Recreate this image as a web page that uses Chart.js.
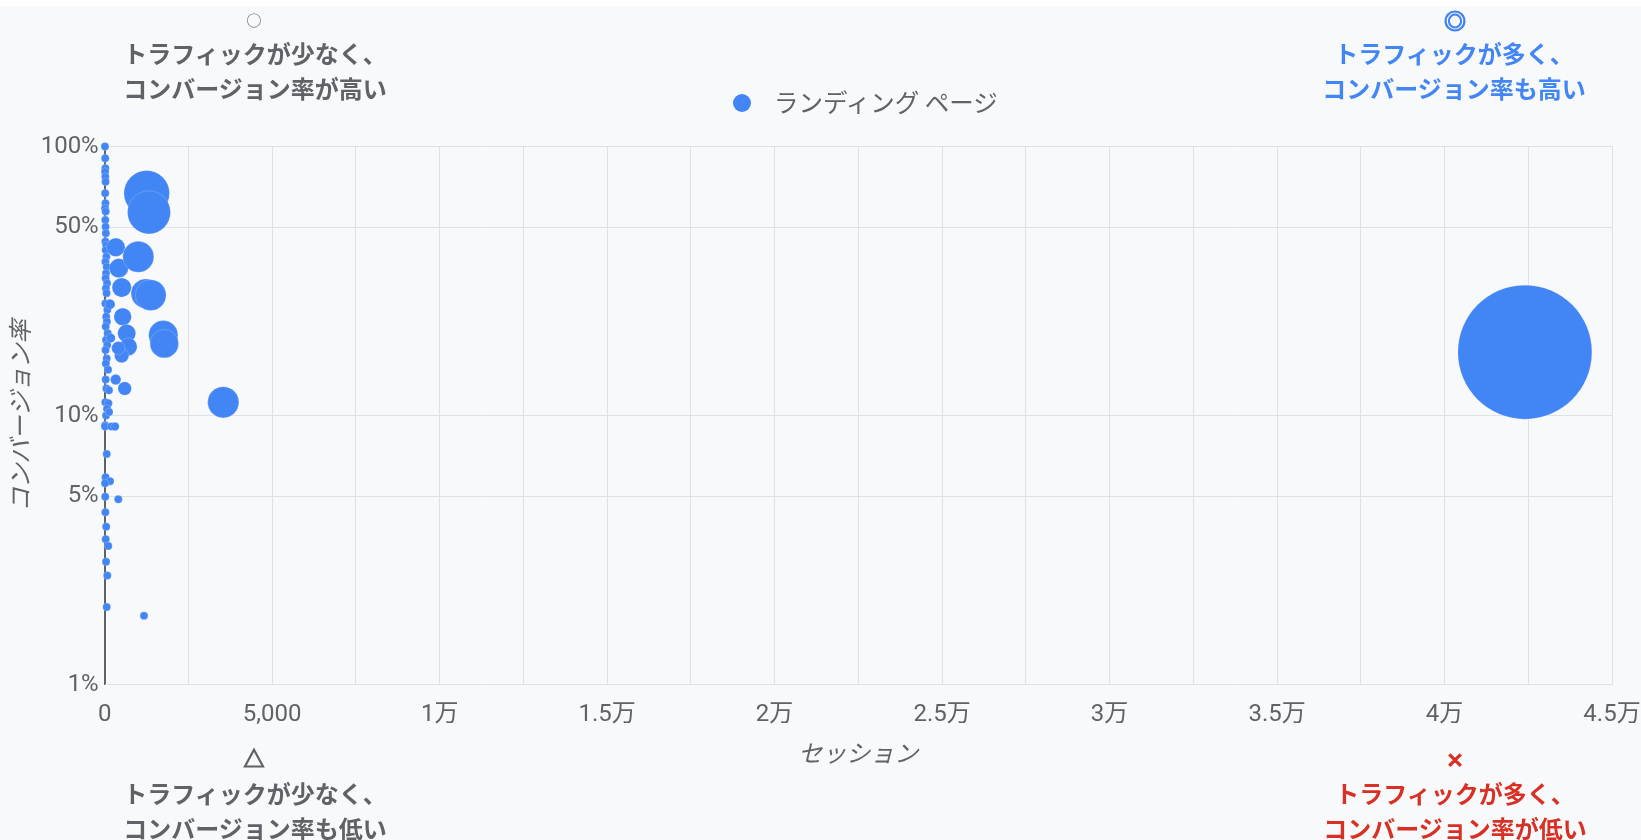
<!DOCTYPE html>
<html lang="ja">
<head>
<meta charset="utf-8">
<script src="https://cdn.jsdelivr.net/npm/chart.js@4.4.1/dist/chart.umd.min.js"></script>
<style>
  html, body { margin: 0; padding: 0; background: #ffffff; }
  body { width: 1641px; height: 840px; position: relative; overflow: hidden; font-family: Roboto, "Noto Sans CJK JP", sans-serif; }
  #panel { position: absolute; left: 0; top: 6px; width: 1641px; height: 834px; background: #f8f9fa; }
  #chartBox { position: absolute; left: 0; top: 0; width: 1641px; height: 834px; }
  .note { position: absolute; width: 400px; text-align: center; font-family: "Noto Sans CJK JP", sans-serif; font-weight: 700; font-size: 24px; line-height: 35px; white-space: nowrap; }
  .mark { position: absolute; width: 40px; height: 30px; line-height: 30px; text-align: center; font-family: "Noto Sans CJK JP", sans-serif; }
  .gray { color: #5f6368; }
  .blue { color: #4285f4; }
  .red { color: #d93025; }
  #legend { position: absolute; left: 733px; top: 84px; height: 35px; line-height: 35px; font-size: 24.5px; color: #5f6368; font-family: "Noto Sans CJK JP", sans-serif; white-space: nowrap; }
  #legend .dot { display: inline-block; width: 18px; height: 18px; border-radius: 50%; background: #4285f4; vertical-align: middle; margin-right: 23px; position: relative; top: -2px; }
</style>
</head>
<body>
<div id="panel">
  <div id="chartBox"><canvas id="bubbleChart"></canvas></div>
</div>

<div class="mark gray" style="left:234px; top:5px; font-size:15px;">○</div>
<div class="note gray" style="left:55px; top:35px;">トラフィックが少なく、<br>コンバージョン率が高い</div>

<div class="mark blue" style="left:1435px; top:4px; font-size:22px; font-weight:700; -webkit-text-stroke:1.2px #4285f4;">◎</div>
<div class="note blue" style="left:1254px; top:35px;">トラフィックが多く、<br>コンバージョン率も高い</div>

<div class="mark gray" style="left:234px; top:742px; font-size:21px; font-weight:700; -webkit-text-stroke:1.2px #5f6368;">△</div>
<div class="note gray" style="left:55px; top:775px;">トラフィックが少なく、<br>コンバージョン率も低い</div>

<div class="mark red" style="left:1435px; top:744px; font-size:18px; font-weight:700; -webkit-text-stroke:1.4px #d93025;">×</div>
<div class="note red" style="left:1255px; top:775px;">トラフィックが多く、<br>コンバージョン率が低い</div>

<div id="legend"><span class="dot"></span><span id="legendText"></span></div>

<script>
// ランディングページごとのセッション数とコンバージョン率(%)
const sessions = [
    8, 15, 20, 12, 18, 25, 15, 22, 10, 30,
    18, 25, 35, 20, 45, 30, 50, 22, 60, 40,
    28, 70, 35, 55, 20, 80, 45, 65, 30, 90,
    40, 75, 25, 60, 35, 100, 30, 50, 20, 110,
    70, 40, 130, 15, 10, 200, 310, 60, 25, 160,
    10, 15, 20, 45, 30, 107, 40, 78, 60,
    330, 420, 507, 537, 657, 705, 507, 406, 597, 328,
    158, 179, 128, 406, 1173, 1003, 1224, 1373, 1749, 1779,
    1254, 1322, 3540, 42400
];
const conversionRates = [
    100, 90.4, 83, 80.6, 77.2, 74, 67, 61.5, 58.9, 57.3,
    53.3, 50.3, 47.6, 44.3, 43, 41.2, 38.9, 37.3, 35.7, 33.8,
    32.4, 31, 29.7, 28.5, 26.1, 24.7, 23.3, 22.3, 21.4, 20.2,
    19.1, 18.3, 17.5, 16.3, 15.6, 14.8, 13.6, 12.6, 11.2, 11.1,
    10.6, 10, 10.3, 9.2, 9.1, 9.1, 9.1, 7.2, 5.9, 5.7,
    5.6, 4.99, 4.37, 3.86, 3.47, 3.27, 2.86, 2.54, 1.94,
    42.2, 35.3, 29.9, 23.3, 20.2, 18.0, 16.7, 17.8, 12.6, 13.6,
    25.9, 19.4, 12.4, 4.88, 1.80, 38.9, 28.4, 28.0, 19.9, 18.5,
    67.0, 56.9, 11.2, 17.2
];
const seriesLabel = 'ランディング ページ';

const xTickValues = [0, 5000, 10000, 15000, 20000, 25000, 30000, 35000, 40000, 45000];
const xTickLabels = ['0', '5,000', '1万', '1.5万', '2万', '2.5万', '3万', '3.5万', '4万', '4.5万'];
const yTickValues = [1, 5, 10, 50, 100];

// バブルの大きさはコンバージョン数(セッション × 率)の面積比
const conversions = sessions.map((s, i) => s * conversionRates[i] / 100);
const maxConversions = Math.max(...conversions);
const points = sessions.map((s, i) => ({
    x: s,
    y: conversionRates[i],
    r: Math.max(4, 67 * Math.sqrt(conversions[i] / maxConversions))
}));

document.getElementById('legendText').textContent = seriesLabel;

Chart.defaults.font.family = 'Roboto, "Noto Sans CJK JP", sans-serif';
Chart.defaults.color = '#5f6368';

const gridColor = '#dfe1e4';
const axisColor = '#5f6368';

const ctx = document.getElementById('bubbleChart').getContext('2d');
new Chart(ctx, {
    type: 'bubble',
    data: {
        datasets: [{
            label: seriesLabel,
            data: points,
            backgroundColor: '#4285f4',
            borderColor: 'rgba(255, 255, 255, 0.2)',
            borderWidth: 1,
            clip: false
        }]
    },
    options: {
        responsive: true,
        maintainAspectRatio: false,
        animation: false,
        layout: {
            autoPadding: false,
            padding: { top: 140.5, right: 29, bottom: 68.1, left: 0 }
        },
        plugins: {
            legend: { display: false },
            tooltip: { enabled: false }
        },
        scales: {
            x: {
                type: 'linear',
                min: 0,
                max: 45000,
                afterFit: function(scale) {
                    scale.height = 87.4;
                    scale.paddingLeft = 0;
                    scale.paddingRight = 0;
                },
                border: { display: false },
                grid: {
                    drawTicks: false,
                    color: c => (c.tick && c.tick.value === 0 ? axisColor : gridColor),
                    lineWidth: c => (c.tick && c.tick.value === 0 ? 2 : 1)
                },
                ticks: {
                    stepSize: 2500,
                    autoSkip: false,
                    maxRotation: 0,
                    padding: 16,
                    color: '#5f6368',
                    font: { size: 24 },
                    callback: function(value) {
                        const i = xTickValues.indexOf(value);
                        return i >= 0 ? xTickLabels[i] : '';
                    }
                },
                title: {
                    display: true,
                    text: 'セッション',
                    color: '#5f6368',
                    font: { size: 24, style: 'italic' },
                    padding: { top: 8.8, bottom: 2 }
                }
            },
            y: {
                type: 'logarithmic',
                min: 1,
                max: 100,
                afterBuildTicks: function(scale) {
                    scale.ticks = yTickValues.map(v => ({ value: v }));
                },
                afterFit: function(scale) {
                    scale.width = 104.7;
                    scale.paddingTop = 0;
                    scale.paddingBottom = 0;
                },
                border: { display: false },
                grid: {
                    drawTicks: false,
                    color: gridColor
                },
                ticks: {
                    padding: 6,
                    color: '#5f6368',
                    font: { size: 24 },
                    callback: value => value + '%'
                },
                title: {
                    display: true,
                    text: 'コンバージョン率',
                    color: '#5f6368',
                    font: { size: 24, style: 'italic' },
                    padding: { top: 8.6, bottom: 0 }
                }
            }
        }
    }
});
</script>
</body>
</html>
